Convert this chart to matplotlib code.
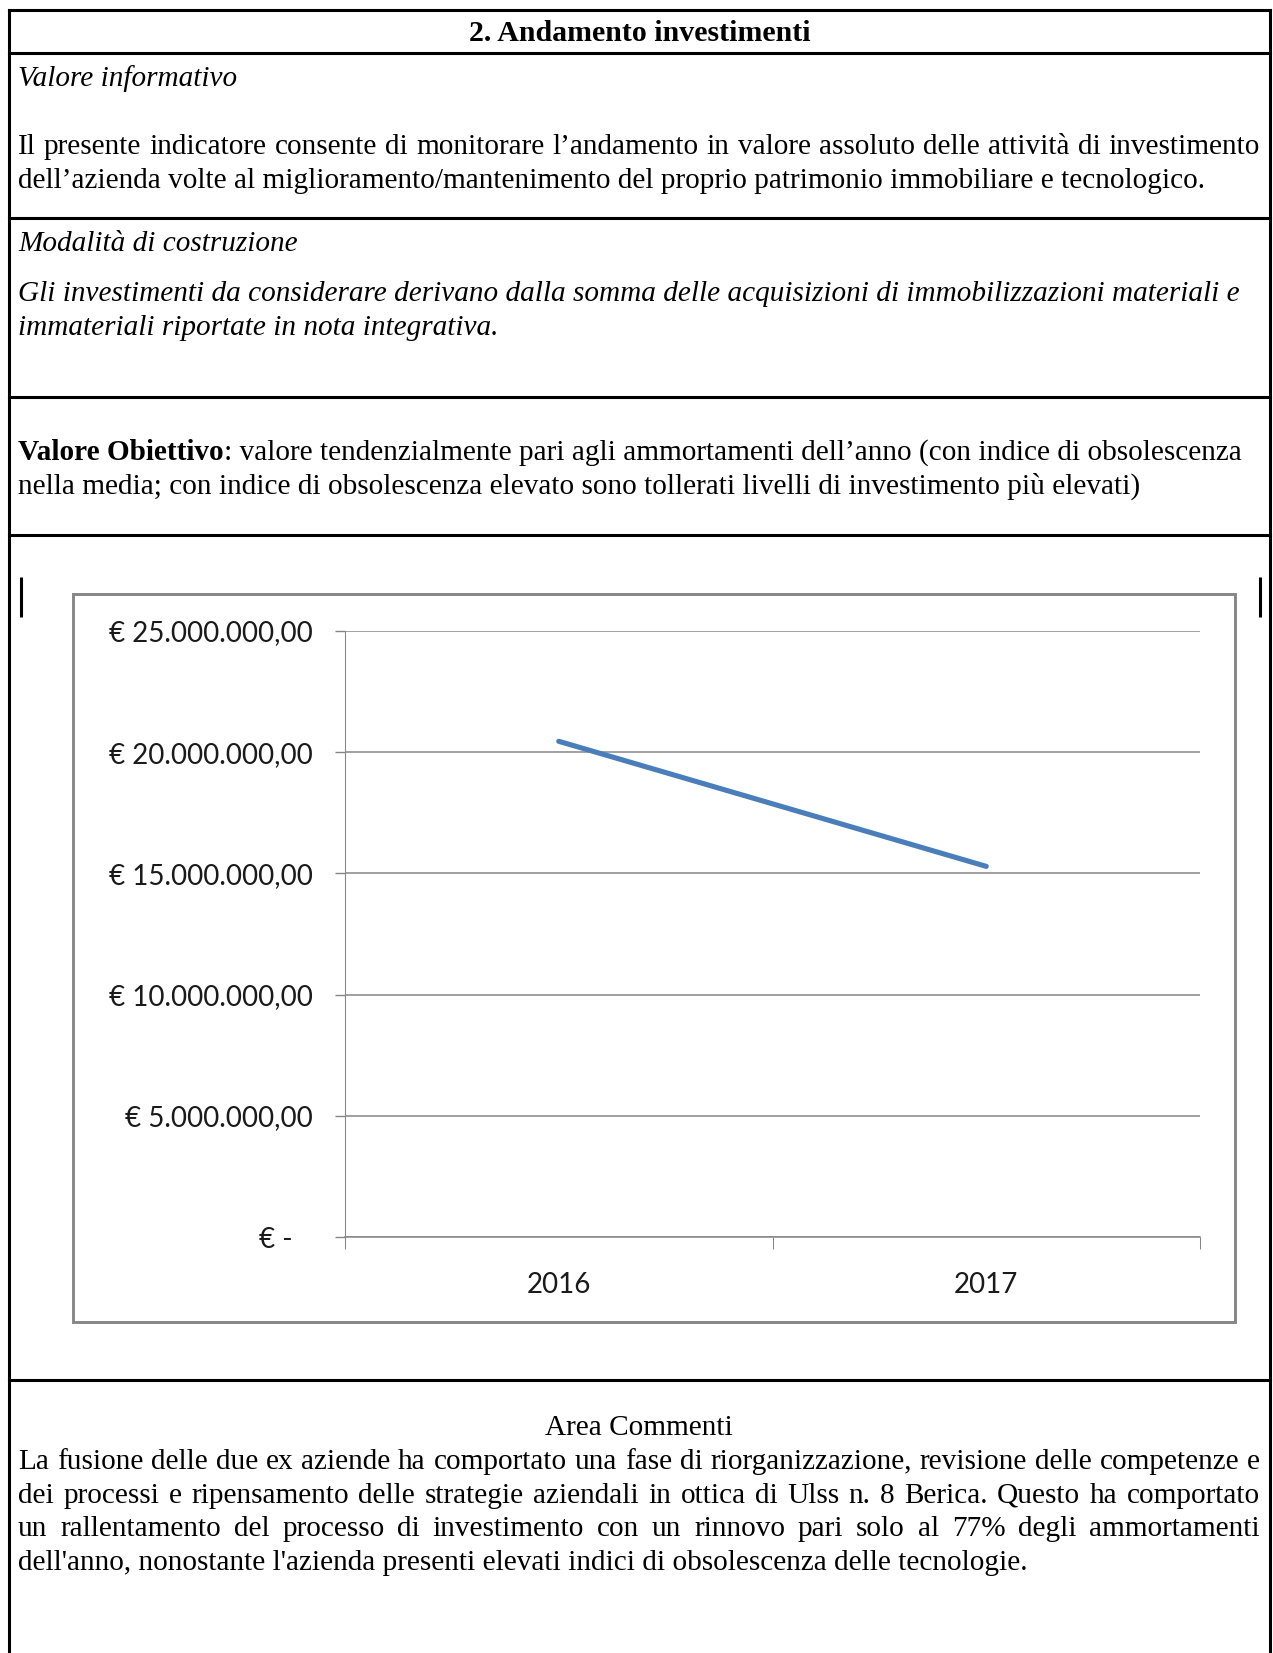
import matplotlib

matplotlib.use("Agg")
import matplotlib.pyplot as plt
import numpy as np
from matplotlib.transforms import ScaledTranslation

W, H = 1273, 1653
DPI = 100

# chart data
YEARS = ["2016", "2017"]
INVESTIMENTI = [20_450_000, 15_290_000]
Y_TICKS = [0, 5_000_000, 10_000_000, 15_000_000, 20_000_000, 25_000_000]

# document text
TITLE = "2. Andamento investimenti"
VALORE_INFO = "Valore informativo"
VALORE_INFO_LINES = [
    "Il presente indicatore consente di monitorare l\u2019andamento in valore assoluto delle attività di investimento",
    "dell\u2019azienda volte al miglioramento/mantenimento del proprio patrimonio immobiliare e tecnologico.",
]
MODALITA = "Modalità di costruzione"
MODALITA_LINES = [
    "Gli investimenti da considerare derivano dalla somma delle acquisizioni di immobilizzazioni materiali e",
    "immateriali riportate in nota integrativa.",
]
OBIETTIVO_BOLD = "Valore Obiettivo"
OBIETTIVO_LINES = [
    ": valore tendenzialmente pari agli ammortamenti dell\u2019anno (con indice di obsolescenza",
    "nella media; con indice di obsolescenza elevato sono tollerati livelli di investimento più elevati)",
]
COMMENTI_TITLE = "Area Commenti"
COMMENTI_LINES = [
    "La fusione delle due ex aziende ha comportato una fase di riorganizzazione, revisione delle competenze e",
    "dei processi e ripensamento delle strategie aziendali in ottica di Ulss n. 8 Berica. Questo ha comportato",
    "un rallentamento del processo di investimento con un rinnovo pari solo al 77% degli ammortamenti",
    "dell'anno, nonostante l'azienda presenti elevati indici di obsolescenza delle tecnologie.",
]

SERIF = ["Liberation Serif", "DejaVu Serif"]
SANS = ["Lato", "DejaVu Sans"]
BODY_PT = 21.1
LINE = 33.8
X0, X1 = 18, 1260
GRAY = "#868686"
BLUE = "#4A7EBB"

fig = plt.figure(figsize=(W / DPI, H / DPI), dpi=DPI)
bg = fig.add_axes([0, 0, 1, 1])
bg.set_xlim(0, W)
bg.set_ylim(H, 0)
bg.axis("off")
renderer = fig.canvas.get_renderer()


def put(x, y, s, **kw):
    kw.setdefault("fontsize", BODY_PT)
    return bg.text(x, y, s, family=SERIF, va="baseline", **kw)


def width(t):
    return t.get_window_extent(renderer=renderer).width


def justified(y, line, **kw):
    words = line.split()
    arts = [put(0, y, w, **kw) for w in words]
    ws = [width(a) for a in arts]
    gap = (X1 - X0 - sum(ws)) / (len(words) - 1)
    x = X0
    for a, w in zip(arts, ws):
        a.set_x(x)
        x += w + gap


# table borders
LEFT, RIGHT = 8.7, 1270
for y in [10, 53, 218, 397, 535, 1380]:
    bg.plot([LEFT, RIGHT], [y, y], color="black", lw=2.2, solid_capstyle="projecting")
for x in [LEFT, RIGHT]:
    bg.plot([x, x], [10, H], color="black", lw=2.2, solid_capstyle="projecting")

# row texts
put((LEFT + RIGHT) / 2, 41, TITLE, ha="center", weight="bold", fontsize=21.5)
put(X0, 86, VALORE_INFO, style="italic")
justified(154, VALORE_INFO_LINES[0])
put(X0, 188, VALORE_INFO_LINES[1])

put(X0, 251, MODALITA, style="italic")
put(X0, 301, MODALITA_LINES[0], style="italic")
put(X0, 335, MODALITA_LINES[1], style="italic")

b = put(X0, 460, OBIETTIVO_BOLD, weight="bold")
put(X0 + width(b), 460, OBIETTIVO_LINES[0])
put(X0, 494, OBIETTIVO_LINES[1])

put((LEFT + RIGHT) / 2, 1435, COMMENTI_TITLE, ha="center")
for i, line in enumerate(COMMENTI_LINES):
    y = 1435 + LINE * (i + 1)
    if i < len(COMMENTI_LINES) - 1:
        justified(y, line)
    else:
        put(X0, y, line)

# little cursor marks beside the chart
for x in [20.5, 1259.5]:
    bg.plot([x, x], [577, 617], color="black", lw=2.2, solid_capstyle="butt")

# chart frame
bg.add_patch(plt.Rectangle((73, 594), 1235 - 73, 1322 - 594, fill=False,
                           edgecolor=GRAY, lw=2.1))

# chart
ax = fig.add_axes([345 / W, 1 - 1237 / H, (1200 - 345) / W, (1237 - 631) / H])
xs = np.arange(len(YEARS)) + 0.5
ax.plot(xs, INVESTIMENTI, color=BLUE, lw=3.7, solid_capstyle="round")
ax.set_xlim(0, len(YEARS))
ax.set_ylim(Y_TICKS[0], Y_TICKS[-1])


def eur(v):
    if v == 0:
        return "\u20ac -"
    s = f"{v:,.2f}".replace(",", "X").replace(".", ",").replace("X", ".")
    return "\u20ac " + s


ax.set_yticks(Y_TICKS)
ax.set_yticklabels([eur(v) for v in Y_TICKS], family=SANS, fontsize=20, color="#1A1A1A")
ax.set_xticks(np.arange(len(YEARS) + 1))
ax.set_xticklabels([])
ax.set_xticks(xs, minor=True)
ax.set_xticklabels(YEARS, minor=True, family=SANS, fontsize=20, color="#1A1A1A")
ax.tick_params(axis="y", length=7.2, width=1.0, color=GRAY, pad=15.8)
ax.tick_params(axis="x", which="major", length=8.6, width=0.75, color=GRAY)
ax.tick_params(axis="x", which="minor", length=0, pad=25)

zero = ax.yaxis.get_major_ticks()[0].label1
zero.set_transform(zero.get_transform() + ScaledTranslation(-20 / DPI, 0, fig.dpi_scale_trans))

ax.yaxis.grid(True, color=GRAY, lw=1.1)
ax.set_axisbelow(True)
for side in ["top", "right"]:
    ax.spines[side].set_visible(False)
ax.spines["left"].set_color(GRAY)
ax.spines["left"].set_linewidth(0.75)
ax.spines["bottom"].set_color(GRAY)
ax.spines["bottom"].set_linewidth(1.1)
ax.patch.set_alpha(0)

fig.savefig("out.png", dpi=DPI)
